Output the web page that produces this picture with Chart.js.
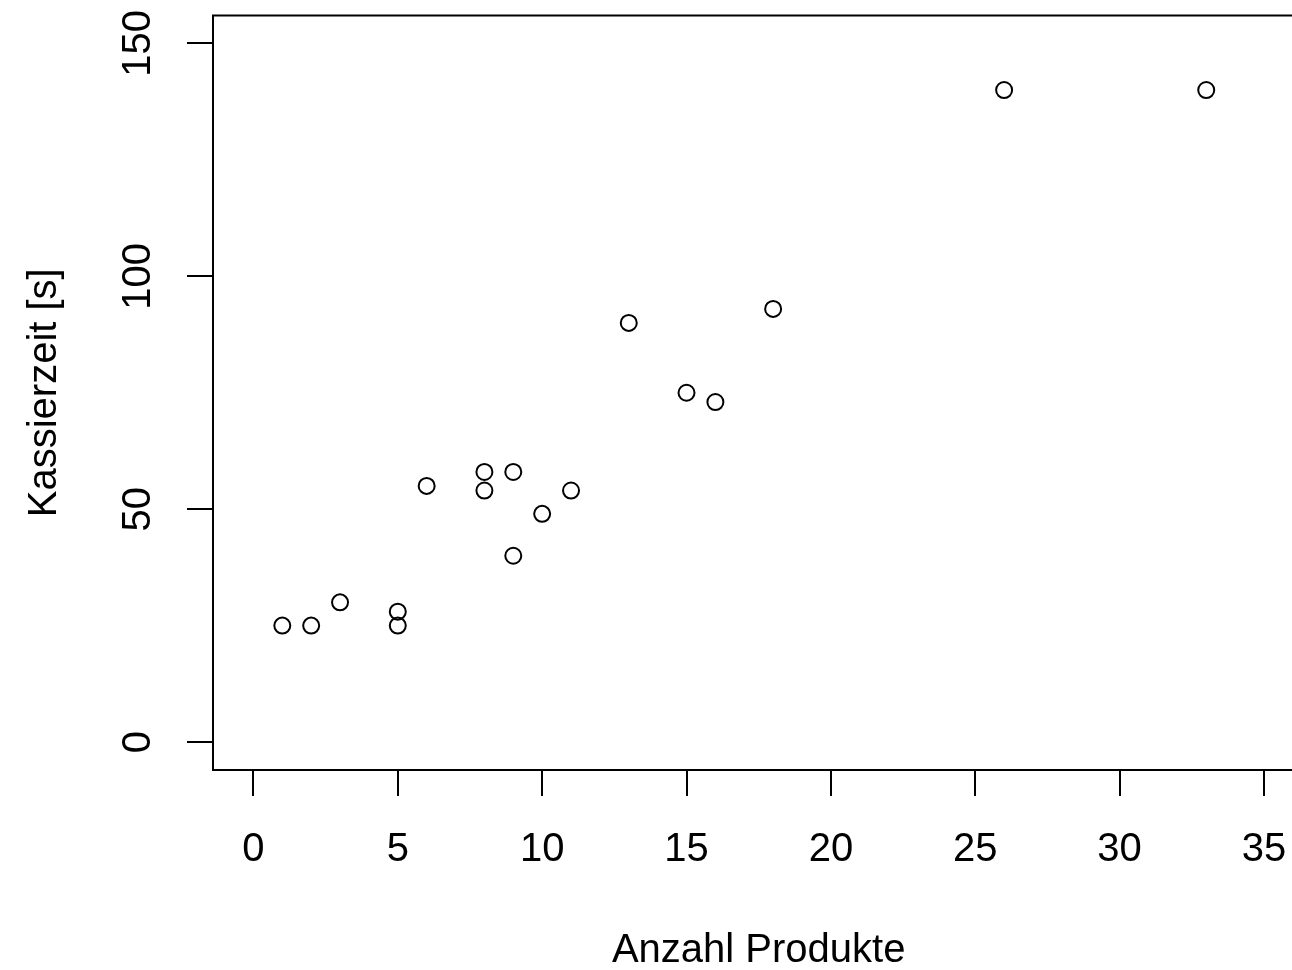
<!DOCTYPE html>
<html>
<head>
<meta charset="utf-8">
<script src="https://cdn.jsdelivr.net/npm/chart.js@4"></script>
<style>
  html, body { margin: 0; padding: 0; background: #fff; overflow: hidden; }
</style>
</head>
<body>
<canvas id="myChart" width="1320" height="970"></canvas>
<script>
var produkte = [1, 2, 3, 5, 5, 6, 8, 8, 9, 9, 10, 11, 13, 15, 16, 18, 26, 33];
var kassierzeit = [25, 25, 30, 28, 25, 55, 58, 54, 58, 40, 49, 54, 90, 75, 73, 93, 140, 140];
var x_ticks = [0, 5, 10, 15, 20, 25, 30, 35];
var y_ticks = [0, 50, 100, 150];

var points = produkte.map(function (p, i) {
    return { x: p, y: kassierzeit[i] };
});

var font = { family: 'Liberation Sans, Arial, sans-serif', size: 40, lineHeight: 1 };

// box round the plot region, like R's box()
var boxPlugin = {
    id: 'box',
    beforeDatasetsDraw: function (chart) {
        var a = chart.chartArea;
        var ctx = chart.ctx;
        ctx.save();
        ctx.strokeStyle = '#000';
        ctx.lineWidth = 2;
        ctx.strokeRect(a.left, a.top, a.right - a.left, a.bottom - a.top);
        ctx.restore();
    }
};

var ctx = document.getElementById('myChart').getContext('2d');
var myChart = new Chart(ctx, {
    type: 'scatter',
    data: {
        datasets: [{
            data: points,
            pointStyle: 'circle',
            pointRadius: 8,
            pointBorderWidth: 2,
            pointBorderColor: '#000',
            pointBackgroundColor: 'rgba(0,0,0,0)',
        }],
    },
    plugins: [boxPlugin],
    options: {
        responsive: false,
        animation: false,
        devicePixelRatio: 1,
        events: [],
        layout: { padding: { left: 0, right: 15.6, top: 15.5, bottom: 0 } },
        plugins: {
            legend: { display: false },
            tooltip: { enabled: false }
        },
        scales: {
            x: {
                type: 'linear',
                min: -1.4,
                max: 36.4,
                afterBuildTicks: function (scale) {
                    scale.ticks = x_ticks.map(function (v) { return { value: v }; });
                },
                afterFit: function (scale) {
                    scale.height = 200;
                    scale.paddingLeft = 0;
                    scale.paddingRight = 0;
                },
                border: { display: false },
                grid: { drawOnChartArea: false, drawTicks: true, tickLength: 26, color: '#000', lineWidth: 2 },
                ticks: { color: '#000', font: font, padding: 34, maxRotation: 0, autoSkip: false },
                title: { display: true, text: 'Anzahl Produkte', color: '#000', font: font, padding: { top: 0, bottom: -1 } }
            },
            y: {
                type: 'linear',
                min: -6,
                max: 156,
                afterBuildTicks: function (scale) {
                    scale.ticks = y_ticks.map(function (v) { return { value: v }; });
                },
                afterFit: function (scale) {
                    scale.width = 213;
                    scale.paddingTop = 0;
                    scale.paddingBottom = 0;
                },
                border: { display: false },
                grid: { drawOnChartArea: false, drawTicks: true, tickLength: 26, color: '#000', lineWidth: 2 },
                ticks: { color: '#000', font: font, padding: 15, minRotation: 90, maxRotation: 90, crossAlign: 'center', autoSkip: false },
                title: { display: true, text: 'Kassierzeit [s]', color: '#000', font: font, padding: { top: 25, bottom: 0 } }
            }
        }
    }
});
</script>
</body>
</html>
